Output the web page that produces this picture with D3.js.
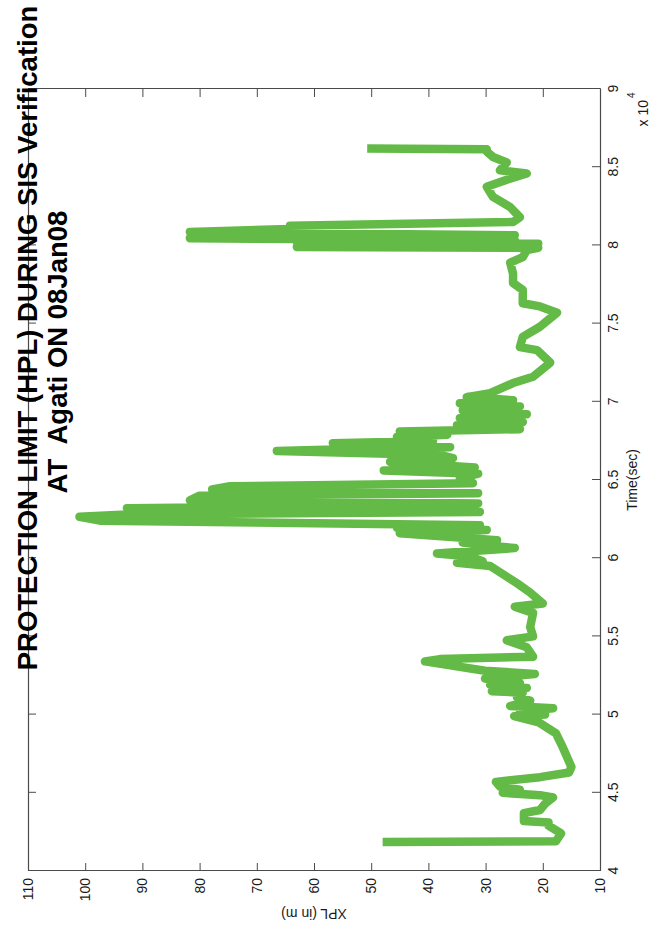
<!DOCTYPE html>
<html>
<head>
<meta charset="utf-8">
<script src="https://cdn.jsdelivr.net/npm/d3@7"></script>
<style>
  html, body { margin: 0; padding: 0; background: #fff; }
  svg { display: block; font-family: "Liberation Sans", Arial, Helvetica, sans-serif; }
</style>
</head>
<body>
<svg id="chart" width="653" height="943"></svg>
<script>
// Time of day in units of 10^4 seconds
const timeSec = [
  4.185, 4.19, 4.24, 4.29, 4.31, 4.32, 4.37, 4.39, 4.43, 4.47,
  4.485, 4.50, 4.52, 4.54, 4.57, 4.60, 4.63, 4.665, 4.79, 4.88,
  4.95, 4.99, 5.00, 5.02, 5.04, 5.055, 5.09, 5.11, 5.14, 5.15,
  5.17, 5.19, 5.20, 5.23, 5.26, 5.28, 5.34, 5.355, 5.37, 5.43,
  5.475, 5.50, 5.56, 5.65, 5.69, 5.71, 5.78, 5.84, 5.91, 5.95,
  5.97, 5.98, 6.01, 6.03, 6.065, 6.085, 6.10, 6.115, 6.16, 6.18,
  6.195, 6.21, 6.24, 6.265, 6.28, 6.295, 6.32, 6.335, 6.35, 6.37,
  6.40, 6.415, 6.44, 6.46, 6.48, 6.51, 6.54, 6.56, 6.58, 6.615,
  6.64, 6.66, 6.685, 6.70, 6.71, 6.735, 6.75, 6.775, 6.79, 6.81,
  6.825, 6.85, 6.87, 6.895, 6.92, 6.945, 6.97, 6.99, 7.01, 7.03,
  7.055, 7.12, 7.16, 7.25, 7.33, 7.35, 7.415, 7.48, 7.57, 7.61,
  7.63, 7.715, 7.76, 7.82, 7.89, 7.925, 7.97, 7.985, 7.99, 8.01,
  8.02, 8.035, 8.045, 8.065, 8.085, 8.105, 8.125, 8.15, 8.18, 8.245,
  8.31, 8.375, 8.42, 8.46, 8.48, 8.53, 8.565, 8.60, 8.615, 8.62
];

// Horizontal protection limit, metres
const xplMeters = [
  48.0, 17.7, 16.8, 19.0, 19.0, 23.3, 23.3, 20.5, 19.6, 18.2,
  20.5, 27.0, 24.0, 27.5, 28.2, 20.5, 15.4, 15.0, 16.5, 17.7,
  20.7, 25.0, 19.6, 24.0, 18.2, 25.7, 22.2, 24.5, 23.5, 28.9,
  22.8, 29.2, 24.0, 30.1, 21.4, 30.1, 40.6, 38.0, 21.7, 22.8,
  26.3, 21.7, 22.2, 21.7, 24.9, 20.0, 22.2, 24.5, 27.5, 29.2,
  35.0, 30.5, 32.7, 38.5, 24.9, 31.0, 34.0, 28.0, 45.0, 29.8,
  45.5, 31.0, 97.4, 101.0, 92.7, 31.0, 92.7, 43.0, 31.3, 81.7,
  80.0, 31.3, 77.8, 74.7, 32.2, 34.5, 31.3, 47.8, 31.9, 46.7,
  35.7, 38.0, 66.5, 51.4, 36.2, 56.7, 39.2, 45.5, 36.7, 45.0,
  24.0, 35.0, 23.5, 34.5, 22.8, 34.0, 24.0, 34.5, 25.2, 33.3,
  29.2, 25.2, 21.7, 18.7, 21.0, 24.0, 23.5, 20.5, 17.5, 20.5,
  23.5, 23.5, 25.2, 25.2, 25.7, 23.5, 22.8, 20.8, 63.0, 20.8,
  63.0, 24.9, 81.7, 24.9, 81.7, 64.2, 64.2, 25.2, 24.0, 25.7,
  28.7, 29.8, 26.3, 22.8, 27.5, 26.3, 28.7, 29.8, 29.8, 50.7
];

const timeTicks = [4, 4.5, 5, 5.5, 6, 6.5, 7, 7.5, 8, 8.5, 9];
const xplTicks = [10, 20, 30, 40, 50, 60, 70, 80, 90, 100, 110];

const titleLines = [
  "PROTECTION LIMIT (HPL) DURING SIS Verification",
  "AT  Agati ON 08Jan08"
];
const xLabel = "Time(sec)";
const yLabel = "XPL (in m)";

// Plot frame (drawn in its own coordinates, then the whole figure is turned a quarter turn)
const W = 782, H = 572;
const axisColor = "#4a4a4a";
const lineColor = "#63ba47";

const svg = d3.select("#chart");
const g = svg.append("g").attr("transform", "translate(28,871) rotate(-90)");

const x = d3.scaleLinear().domain([4, 9]).range([0, W]);
const y = d3.scaleLinear().domain([10, 110]).range([H, 0]);

const fmt = d => String(d);

// Bottom (labelled) and top (mirror) time axes
g.append("g").attr("class", "axis")
  .attr("transform", `translate(0,${H})`)
  .call(d3.axisBottom(x).tickValues(timeTicks).tickFormat(fmt)
    .tickSizeInner(-8).tickSizeOuter(0).tickPadding(8));
g.append("g").attr("class", "axis")
  .call(d3.axisTop(x).tickValues(timeTicks).tickFormat("")
    .tickSizeInner(-8).tickSizeOuter(0));

// Left (labelled) and right (mirror) XPL axes
g.append("g").attr("class", "axis")
  .call(d3.axisLeft(y).tickValues(xplTicks).tickFormat(fmt)
    .tickSizeInner(-8).tickSizeOuter(0).tickPadding(7));
g.append("g").attr("class", "axis")
  .attr("transform", `translate(${W},0)`)
  .call(d3.axisRight(y).tickValues(xplTicks).tickFormat("")
    .tickSizeInner(-8).tickSizeOuter(0));

g.selectAll(".axis path.domain").attr("stroke", axisColor).attr("stroke-width", 1.2);
g.selectAll(".axis .tick line").attr("stroke", axisColor).attr("stroke-width", 1);
g.selectAll(".axis .tick text")
  .attr("fill", "#1a1a1a")
  .style("font-size", "14px")
  .style("font-family", '"Liberation Sans", Arial, Helvetica, sans-serif');

// HPL trace
const pts = timeSec.map((t, i) => [t, xplMeters[i]]);
g.append("path")
  .datum(pts)
  .attr("fill", "none")
  .attr("stroke", lineColor)
  .attr("stroke-width", 8.5)
  .attr("stroke-linejoin", "round")
  .attr("stroke-linecap", "butt")
  .attr("d", d3.line().x(d => x(d[0])).y(d => y(d[1])));

// Axis labels
g.append("text")
  .attr("x", W / 2).attr("y", H + 37)
  .attr("text-anchor", "middle")
  .style("font-size", "14px").attr("fill", "#1a1a1a")
  .text(xLabel);

g.append("text")
  .attr("transform", `translate(-38,${H / 2}) rotate(-90)`)
  .attr("text-anchor", "middle")
  .style("font-size", "14px").attr("fill", "#1a1a1a")
  .text(yLabel);

// Exponent marker for the time axis
g.append("text")
  .attr("x", 771).attr("y", H + 48)
  .attr("text-anchor", "end")
  .style("font-size", "14px").attr("fill", "#1a1a1a")
  .text("x 10");
g.append("text")
  .attr("x", 773).attr("y", H + 35)
  .attr("text-anchor", "start")
  .style("font-size", "10px").attr("fill", "#1a1a1a")
  .text("4");

// Title, two lines
const titlePos = [[533, 9], [519, 39]];
titleLines.forEach((line, i) => {
  g.append("text")
    .attr("x", titlePos[i][0]).attr("y", titlePos[i][1])
    .attr("text-anchor", "middle")
    .style("font-size", "27.5px").style("font-weight", "bold")
    .style("white-space", "pre")
    .attr("fill", "#000")
    .text(line);
});
</script>
</body>
</html>
